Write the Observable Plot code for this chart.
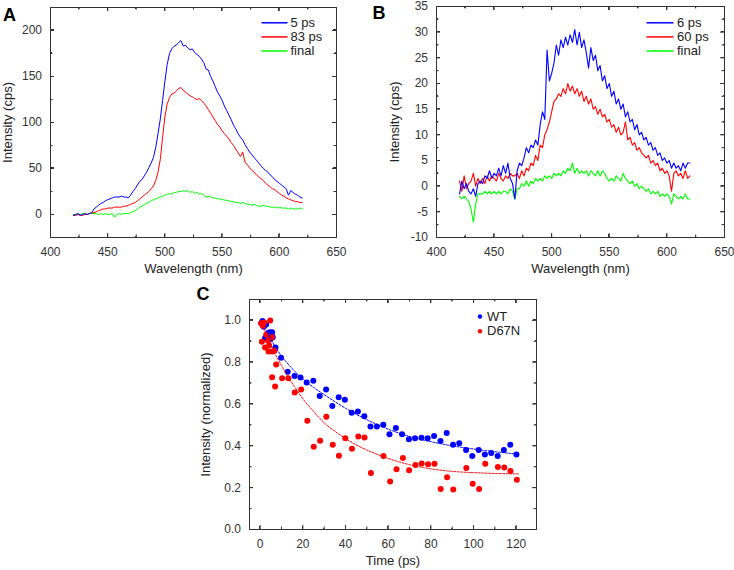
<!DOCTYPE html>
<html><head><meta charset="utf-8">
<script src="https://cdn.jsdelivr.net/npm/d3@7"></script>
<script src="https://cdn.jsdelivr.net/npm/@observablehq/plot@0.6"></script>
<style>
html,body{margin:0;padding:0;background:#fff;}
#root{position:relative;width:734px;height:570px;overflow:hidden;font-family:"Liberation Sans",Arial,sans-serif;}
.fr{position:absolute;box-sizing:border-box;}
</style></head><body><div id="root"></div>
<script>
// ---------- Panel A data ----------
const wavelengthA = d3.range(420, 621, 2);
const seriesA = ["5 ps", "83 ps", "final"];
const colorsA = ["#0000ff", "#ff0000", "#00ff00"];
const blueA = [
 -1,0,1,-1,0,1,0,1,2,6,
 8,10,12,13,15,16,17,18,19,19,
 19,20,19,19,18,21,25,28,32,36,
 38,42,46,51,56,62,73,88,104,124,
 145,163,175,180,183,184,187,189,183,184,
 181,179,180,176,174,172,169,165,158,157,
 150,145,139,133,129,124,118,113,108,103,
 97,93,88,84,81,76,72,68,65,62,
 59,56,53,50,48,46,43,41,38,36,
 34,32,30,28,21,26,24,22,21,19,
 18];
const redA = [
 -1,-1,0,-1,-1,0,0,1,2,2,
 3,4,5,6,6,7,7,7,8,8,
 8,8,9,9,10,11,12,13,15,17,
 19,21,23,25,28,31,37,46,60,84,
 106,120,127,131,132,134,137,138,135,133,
 131,129,128,126,125,126,124,121,118,114,
 110,106,102,98,95,91,88,85,82,78,
 75,71,67,63,68,57,54,51,48,46,
 43,41,39,37,34,32,30,28,27,25,
 23,21,20,18,17,16,15,14,14,13,
 13];
const greenA = [
 0,0,1,0,1,1,0,1,1,1,
 1,0,1,0,1,0,0,1,-3,0,
 1,0,1,1,1,2,3,4,6,8,
 9,11,12,13,15,16,17,18,19,20,
 21,22,23,22,24,24,25,25,26,25,
 26,24,25,23,24,22,23,21,19,20,
 19,18,18,17,17,16,16,15,15,14,
 14,13,13,12,13,12,11,11,10,11,
 10,9,9,10,9,9,8,8,8,7,
 8,7,7,7,6,7,6,6,6,7,
 6];

// ---------- Panel B data ----------
const wavelengthB = d3.range(420, 621, 2);
const seriesB = ["6 ps", "60 ps", "final"];
const colorsB = ["#0000ff", "#ff0000", "#00ff00"];
const blueB = [
 -1.5,1,-0.5,0.5,-1,-1.5,-0.5,-2,0.5,1,
 0.5,2,1.5,3,1.5,2.5,2,3.5,2,4,
 2.5,4.5,1.5,0.5,-2.5,3,4.5,4,5.5,7.5,
 6.5,8,7.5,9,8,12,14.5,13,26.5,20.5,
 22,24,27.5,25.5,28.5,27,29,27.5,29.5,28,
 30.5,27.5,30,27,28.5,26,23,27,24.5,25.5,
 22.5,23.5,20.5,21.5,19,20,17.5,18.5,16,17,
 15,16,13.5,14.5,12.5,13,11,12,10,10.5,
 9,9.5,8,8.5,7,7.5,6,6.5,5,5.5,
 4.5,5,3.5,4.5,3.5,4,3,4.5,3.5,4.5,
 4.5];
const redB = [
 1,-1,2,-0.5,0.5,1,2.5,0,1.5,0.5,
 1.5,0.5,2,1,2,1.5,1,2.5,1.5,1,
 2,1.5,2.5,2,2,2.5,1.5,3,2,3.5,
 3,4.5,4,6,5,8,7.5,10,11,12.5,
 14.5,16.5,17,18,17.5,19,18,20,18.5,19.5,
 18,19,17.5,18.5,16.5,17.5,16,17,15,15.5,
 14,15,13.5,14,12.5,13,11.5,12,10.5,11.5,
 10,10.5,12.5,9,9.5,8,8.5,7,7.5,6.5,
 6,5.5,6,4.5,5,4,4.5,3,3.5,2.5,
 3,2,-1,2.5,3,2,2.5,1.5,3,1.5,
 2];
const greenB = [
 -2,-2.5,-2,-2.5,-3,-4.5,-7,-3.5,-1.5,-1.5,
 -1.5,-1,-1.5,-1,-1.5,-1,-1.5,-1,-1.5,-1,
 -1,-1.5,-0.5,-1,-2.5,-0.5,-0.5,0.5,0,1,
 0,1,0.5,1.5,1,1.5,1,2,1.5,2,
 1.5,2.5,2,2.5,2,3,2.5,3.5,3,4.5,
 2.5,3.5,2.5,3,2.5,3,2,3,2.5,2,
 3,2,3,2.5,1.5,1,1.5,1,2,1.5,
 1,2.5,1.5,1,0.5,1,0,0.5,-0.5,0,
 -0.5,-1,-0.5,-1.5,-1,-1.5,-1,-2,-1.5,-2,
 -1.5,-2,-3.5,-1.5,-2,-2.5,-2,-2.5,-1.5,-2.5,
 -2.5];

// ---------- Panel C data ----------
const seriesC = ["WT", "D67N"];
const colorsC = ["#0000ff", "#ff0000"];
const wtTime = [0.5,1.1,1.7,2.8,2.3,3.6,4.5,5.3,5.9,4.8,3.3,5.6,
 7.2,9.8,12.9,16.1,18.9,21.8,24.9,27.9,30.9,33.8,36.8,39.7,42.9,45.8,48.8,51.7,54.7,57.7,
 60.6,63.6,66.5,69.7,72.6,75.6,78.5,81.5,84.5,87.4,90.4,93.3,96.5,99.4,102.4,105.3,108.3,111.3,114.2,117.2,120.1];
const wtIntensity = [0.986,0.997,0.97,0.98,0.916,0.938,0.943,0.932,0.919,0.911,0.911,0.943,
 0.871,0.822,0.755,0.734,0.727,0.703,0.711,0.639,0.669,0.591,0.633,0.62,0.558,0.564,0.542,0.493,0.493,0.501,
 0.455,0.485,0.456,0.432,0.436,0.439,0.437,0.447,0.423,0.461,0.405,0.413,0.38,0.351,0.38,0.359,0.366,0.351,0.38,0.405,0.359];
const d67nTime = [0.5,1.2,0.8,2.3,4.7,2.8,3.7,1.9,3.9,5.6,6.7,5.5,4.2,7.5,5.6,7.0,
 10.3,13.2,16.2,19.2,22.1,25.1,28.1,31.0,34.0,36.9,39.9,43.0,46.0,48.9,51.9,57.8,60.9,63.9,66.9,69.8,
 72.8,75.7,78.7,81.7,84.6,87.6,90.5,96.6,99.6,102.6,105.5,111.4,114.4,117.3,120.3];
const d67nIntensity = [0.986,0.975,0.898,0.871,1.0,0.932,0.903,0.99,0.851,0.851,0.855,0.919,0.88,0.789,0.728,0.684,
 0.723,0.723,0.655,0.669,0.52,0.396,0.424,0.539,0.405,0.353,0.436,0.386,0.445,0.44,0.27,0.351,0.229,0.288,0.342,0.283,
 0.308,0.316,0.312,0.315,0.194,0.25,0.191,0.294,0.219,0.194,0.315,0.299,0.296,0.28,0.238];
const fitWTTime = [3,5,7,10,15,20,25,30,40,50,60,70,80,90,100,110,121];
const fitWT = [0.95,0.91,0.875,0.83,0.77,0.72,0.68,0.645,0.58,0.525,0.48,0.445,0.42,0.40,0.385,0.372,0.36];
const fitD67NTime = [0.5,2,4,7,10,13,16,20,25,30,35,40,45,50,60,70,80,90,100,110,121];
const fitD67N = [0.985,0.955,0.91,0.84,0.785,0.73,0.685,0.625,0.565,0.51,0.47,0.435,0.405,0.38,0.34,0.31,0.29,0.278,0.272,0.268,0.266];

// ---------- Ticks ----------
const xTicksAB = [400,450,500,550,600,650];
const xTickLabelsAB = ["400","450","500","550","600","650"];
const xMinorAB = [425,475,525,575,625];
const yTicksA = [0,50,100,150,200];
const yTickLabelsA = ["0","50","100","150","200"];
const yMinorA = [-25,25,75,125,175,225];
const yTicksB = [-10,-5,0,5,10,15,20,25,30,35];
const yTickLabelsB = ["-10","-5","0","5","10","15","20","25","30","35"];
const yMinorB = [-7.5,-2.5,2.5,7.5,12.5,17.5,22.5,27.5,32.5];
const xTicksC = [0,20,40,60,80,100,120];
const xTickLabelsC = ["0","20","40","60","80","100","120"];
const xMinorC = [10,30,50,70,90,110];
const yTicksC = [0,0.2,0.4,0.6,0.8,1.0];
const yTickLabelsC = ["0.0","0.2","0.4","0.6","0.8","1.0"];
const yMinorC = [0.1,0.3,0.5,0.7,0.9,1.1];

const root = document.getElementById("root");
const FONT = "Liberation Sans, Arial, Helvetica, sans-serif";
const fmt = (vals, labels) => { const m = new Map(vals.map((v,i)=>[v, labels[i]])); return d => m.has(d) ? m.get(d) : ""; };

function addBox(x, y, w, h, css) {
  const d = document.createElement("div");
  d.className = "fr";
  d.style.cssText += `left:${x}px;top:${y}px;width:${w}px;height:${h}px;` + css;
  root.insertBefore(d, root.firstChild);
}

// frame and inward ticks placed from the plot's own scales
function frameFromScales(svg, cfg) {
  try {
    const sx = svg.scale("x"), sy = svg.scale("y");
    const L = cfg.left, T = cfg.top;
    const fx0 = L + cfg.margin.left, fy0 = T + cfg.margin.top;
    const fx1 = L + cfg.width - cfg.margin.right, fy1 = T + cfg.height - cfg.margin.bottom;
    addBox(fx0, fy0, fx1 - fx0 + 1, fy1 - fy0 + 1, "border:1px solid #333;");
    const tk = (x, y, w, h) => addBox(x, y, w, h, "background:#333;");
    const xt = (vals, len) => vals.forEach(v => {
      const px = Math.floor(L + sx.apply(v));
      tk(px, fy1 - len + 1, 1, len); tk(px, fy0, 1, len);
    });
    const yt = (vals, len) => vals.forEach(v => {
      const py = Math.floor(T + sy.apply(v));
      tk(fx0, py, len, 1); tk(fx1 - len + 1, py, len, 1);
    });
    xt(cfg.xTicks, 4); xt(cfg.xMinor, 2);
    yt(cfg.yTicks, 4); yt(cfg.yMinor, 2);
  } catch (e) {}
}

function makePanel(cfg) {
  const {width, height, margin} = cfg;
  const pw = width - margin.left - margin.right;
  const ph = height - margin.top - margin.bottom;
  const [xa, xb] = cfg.xDomain, [ya, yb] = cfg.yDomain;
  const kx = (xb - xa) / pw, ky = (yb - ya) / ph;
  const X = px => xa + px * kx;
  const Y = px => yb - px * ky;
  const tc = "#333";
  const MAJ = 4, MIN = 2.5;
  const ticks = [
    Plot.ruleX(cfg.xTicks, {stroke: tc, insetTop: ph - MAJ}),
    Plot.ruleX(cfg.xTicks, {stroke: tc, insetBottom: ph - MAJ}),
    Plot.ruleX(cfg.xMinor, {stroke: tc, insetTop: ph - MIN}),
    Plot.ruleX(cfg.xMinor, {stroke: tc, insetBottom: ph - MIN}),
    Plot.ruleY(cfg.yTicks, {stroke: tc, insetRight: pw - MAJ}),
    Plot.ruleY(cfg.yTicks, {stroke: tc, insetLeft: pw - MAJ}),
    Plot.ruleY(cfg.yMinor, {stroke: tc, insetRight: pw - MIN}),
    Plot.ruleY(cfg.yMinor, {stroke: tc, insetLeft: pw - MIN})
  ];
  const lg = cfg.legend;
  const legendMarks = [];
  lg.labels.forEach((lab, i) => {
    const yy = Y(lg.y0 + i * lg.step);
    if (lg.type === "line") {
      legendMarks.push(Plot.link([lab], {x1: X(lg.x1), x2: X(lg.x2), y1: yy, y2: yy, stroke: lg.colors[i], strokeWidth: 1.5}));
    } else {
      legendMarks.push(Plot.dot([lab], {x: X(lg.x1), y: yy, r: 2.2, fill: lg.colors[i]}));
    }
    legendMarks.push(Plot.text([lab], {x: X(lg.tx), y: yy, text: d => d, textAnchor: "start", fontSize: 13, fill: "#222"}));
  });
  const textMarks = [
    Plot.text([cfg.xLabel], {text: d => d, frameAnchor: "bottom", dy: 35.5, lineAnchor: "bottom", fontSize: 13, fill: "#222"}),
    Plot.text([cfg.yLabel], {text: d => d, frameAnchor: "left", textAnchor: "middle", dx: cfg.yLabelDx, rotate: -90, fontSize: 13, fill: "#222"}),
    Plot.text([cfg.letter], {text: d => d, frameAnchor: "top-left", dx: cfg.letterDx, dy: cfg.letterDy, textAnchor: "start", lineAnchor: "bottom", fontSize: 18, fontWeight: "bold", fill: "#000"})
  ];
  const svg = Plot.plot({
    width, height,
    marginLeft: margin.left, marginRight: margin.right, marginTop: margin.top, marginBottom: margin.bottom,
    style: {fontFamily: FONT, fontSize: "12px", color: "#333", background: "transparent"},
    x: {domain: cfg.xDomain, ticks: cfg.xTicks, tickFormat: fmt(cfg.xTicks, cfg.xTickLabels), tickSize: 0, tickPadding: 9.5, label: null},
    y: {domain: cfg.yDomain, ticks: cfg.yTicks, tickFormat: fmt(cfg.yTicks, cfg.yTickLabels), tickSize: 0, tickPadding: 8.5, label: null},
    marks: [...cfg.marks, ...ticks, Plot.frame({stroke: tc}), ...legendMarks, ...textMarks]
  });
  svg.style.position = "absolute";
  svg.style.left = cfg.left + "px";
  svg.style.top = cfg.top + "px";
  root.appendChild(svg);
  frameFromScales(svg, cfg);
}

makePanel({
  left: 0, top: 0, width: 367, height: 285,
  margin: {left: 50, right: 31, top: 7, bottom: 48},
  xDomain: [400, 650], yDomain: [-25, 225],
  xTicks: xTicksAB, xTickLabels: xTickLabelsAB, xMinor: xMinorAB,
  yTicks: yTicksA, yTickLabels: yTickLabelsA, yMinor: yMinorA,
  xLabel: "Wavelength (nm)", yLabel: "Intensity (cps)", yLabelDx: -42.5,
  letter: "A", letterDx: -47.5, letterDy: 13.8,
  legend: {type: "line", labels: seriesA, colors: colorsA, x1: 211, x2: 237, tx: 240, y0: 15.3, step: 14.1},
  marks: [
    Plot.line(greenA, {x: wavelengthA, y: d => d, stroke: colorsA[2], strokeWidth: 1}),
    Plot.line(redA, {x: wavelengthA, y: d => d, stroke: colorsA[1], strokeWidth: 1}),
    Plot.line(blueA, {x: wavelengthA, y: d => d, stroke: colorsA[0], strokeWidth: 1})
  ]
});

makePanel({
  left: 367, top: 0, width: 367, height: 285,
  margin: {left: 69, right: 10, top: 6, bottom: 48},
  xDomain: [400, 650], yDomain: [-10, 35],
  xTicks: xTicksAB, xTickLabels: xTickLabelsAB, xMinor: xMinorAB,
  yTicks: yTicksB, yTickLabels: yTickLabelsB, yMinor: yMinorB,
  xLabel: "Wavelength (nm)", yLabel: "Intensity (cps)", yLabelDx: -42,
  letter: "B", letterDx: -64, letterDy: 12.5,
  legend: {type: "line", labels: seriesB, colors: colorsB, x1: 210, x2: 237, tx: 240.5, y0: 16.3, step: 14.1},
  marks: [
    Plot.line(greenB, {x: wavelengthB, y: d => d, stroke: colorsB[2], strokeWidth: 1.1}),
    Plot.line(redB, {x: wavelengthB, y: d => d, stroke: colorsB[1], strokeWidth: 1.1}),
    Plot.line(blueB, {x: wavelengthB, y: d => d, stroke: colorsB[0], strokeWidth: 1.1})
  ]
});

makePanel({
  left: 190, top: 280, width: 370, height: 290,
  margin: {left: 59, right: 24, top: 19, bottom: 41},
  xDomain: [-5, 129.5], yDomain: [0, 1.1],
  xTicks: xTicksC, xTickLabels: xTickLabelsC, xMinor: xMinorC,
  yTicks: yTicksC, yTickLabels: yTickLabelsC, yMinor: yMinorC,
  xLabel: "Time (ps)", yLabel: "Intensity (normalized)", yLabelDx: -44,
  letter: "C", letterDx: -53, letterDy: 0,
  legend: {type: "dot", labels: seriesC, colors: colorsC, x1: 230.5, tx: 237.5, y0: 17, step: 14.7},
  marks: [
    Plot.dot(wtIntensity, {x: wtTime, y: d => d, r: 3, fill: colorsC[0]}),
    Plot.dot(d67nIntensity, {x: d67nTime, y: d => d, r: 3, fill: colorsC[1]}),
    Plot.line(fitWT, {x: fitWTTime, y: d => d, stroke: colorsC[0], strokeWidth: 1, strokeDasharray: "2,1.5", curve: "monotone-x"}),
    Plot.line(fitD67N, {x: fitD67NTime, y: d => d, stroke: colorsC[1], strokeWidth: 1, strokeDasharray: "2,1.5", curve: "monotone-x"})
  ]
});
</script></body></html>
